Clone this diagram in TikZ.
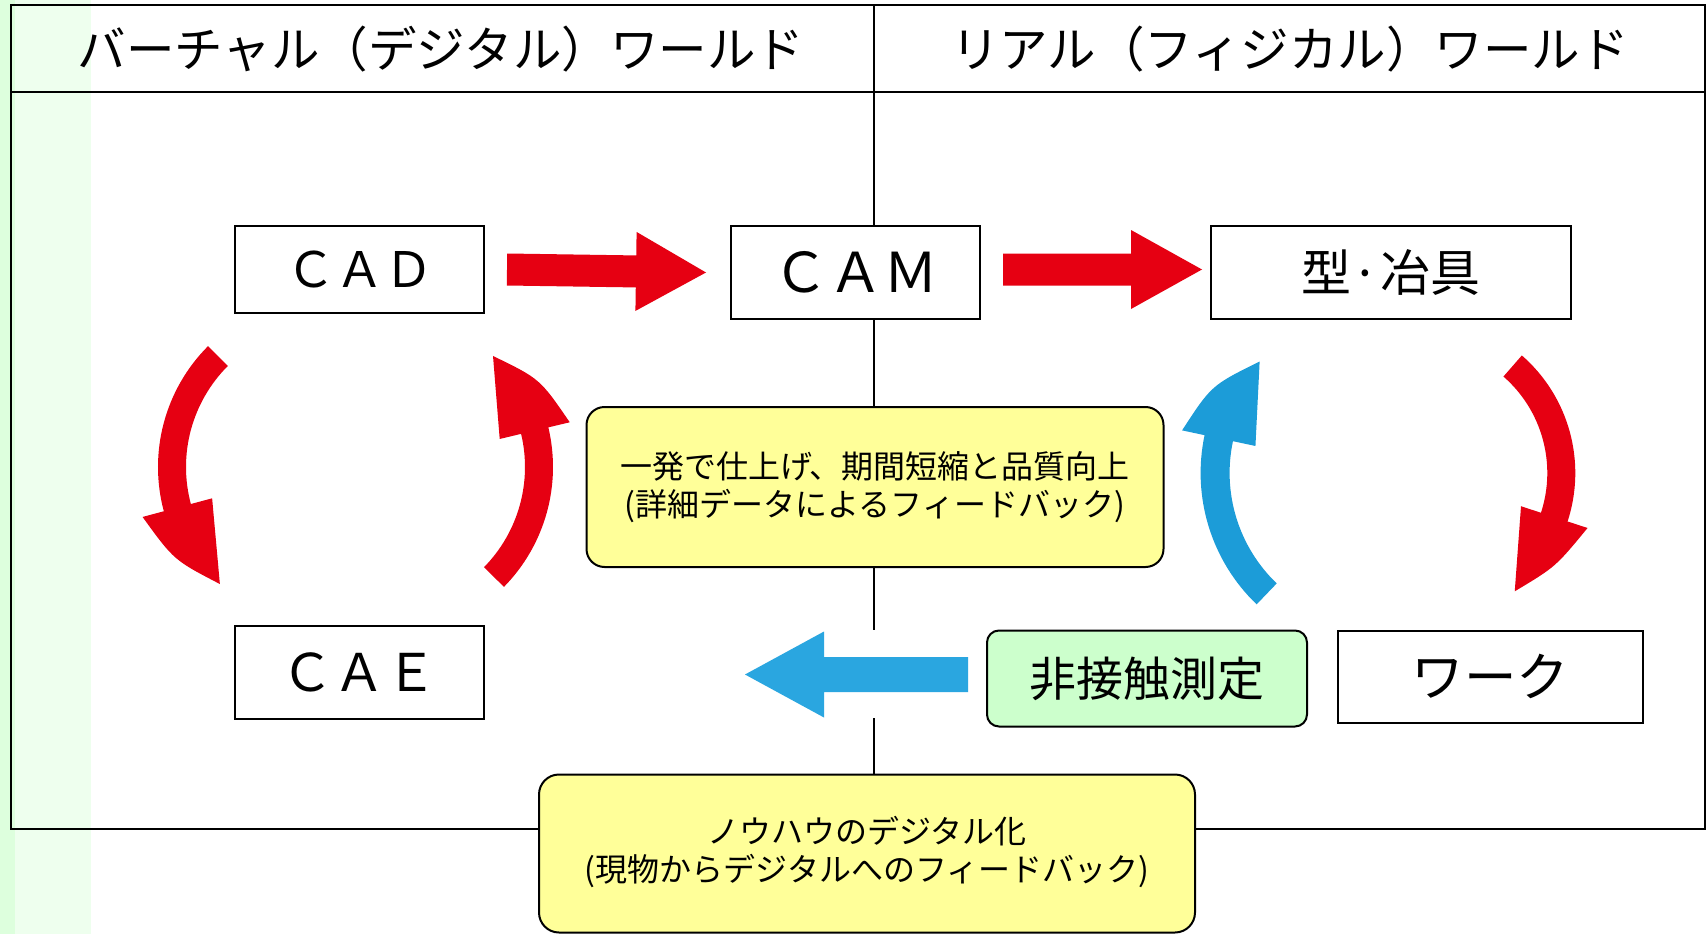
\documentclass[tikz,border=0pt]{standalone}
\usepackage{fontspec}
\setmainfont{Noto Sans CJK JP}
\usetikzlibrary{calc}
\definecolor{arrowred}{HTML}{E60012}
\definecolor{arrowblue}{HTML}{2AA6E0}
\definecolor{curveblue}{HTML}{1C9CD8}
\definecolor{noteyellow}{HTML}{FFFF99}
\definecolor{measgreen}{HTML}{CCFFCC}
\definecolor{stripdark}{HTML}{DDFFDD}
\definecolor{striplight}{HTML}{EEFFEE}

\newcommand{\fsz}[2]{\fontsize{#1}{#2}\selectfont}

% straight block arrow: #1 colour, #2 tail, #3 tip, #4 shaft half width, #5 head half width, #6 head length
\newcommand{\straightarrow}[6]{%
  \coordinate (sa-b) at ($(#3)!#6pt!(#2)$);
  \fill[#1] ($(#2)!#4pt!90:(#3)$) -- ($(sa-b)!#4pt!90:(#3)$) -- ($(sa-b)!#5pt!90:(#3)$)
    -- (#3) -- ($(sa-b)!#5pt!-90:(#3)$) -- ($(sa-b)!#4pt!-90:(#3)$) -- ($(#2)!#4pt!-90:(#3)$) -- cycle;
}
% curved block arrow: #1 colour, #2 centre, #3 inner r, #4 outer r, #5 tail angle, #6 head base angle, #7 tip angle, #8 head extension, #9 tip radius
\newcommand{\curvedarrow}[9]{%
  \fill[#1] ($(#2)+(#5:#4)$) arc[start angle=#5, end angle=#6, radius=#4]
    -- ($(#2)+(#6:{#4+#8})$)
    .. controls ($(#2)+({(#6+#7)/2}:{#4+0.45*#8})$) .. ($(#2)+(#7:#9)$)
    -- ($(#2)+(#6:{#3-#8})$)
    -- ($(#2)+(#6:#3)$) arc[start angle=#6, end angle=#5, radius=#3] -- cycle;
}

\tikzset{
  box/.style={draw=black, line width=2pt, fill=white, inner sep=0pt, align=center},
  note/.style={draw=black, line width=2pt, fill=noteyellow, rounded corners=18pt, inner sep=0pt, align=center, font=\fsz{32}{38}},
  measbox/.style={draw=black, line width=2pt, fill=measgreen, rounded corners=12pt, inner sep=0pt, align=center},
  frameline/.style={draw=black, line width=2pt},
  header/.style={inner sep=0pt, font=\fsz{48.5}{52}},
}

\begin{document}
\begin{tikzpicture}[x=1pt,y=-1pt]
\useasboundingbox (0,0) rectangle (1706,934);
\fill[white] (0,0) rectangle (1706,934);
\fill[stripdark] (0,0) rectangle (15,934);
\fill[striplight] (15,0) rectangle (91,934);

% frame
\draw[frameline] (11,5) rectangle (1705,829);
\draw[frameline] (11,92) -- (1705,92);

% headers
\node[header] (hvirt) at (441,49) {バーチャル（デジタル）ワールド};
\node[header] (hreal) at (1290,49) {リアル（フィジカル）ワールド};

% boxes
\node[box, minimum width=249pt, minimum height=87pt, font=\fsz{49}{52}] (cad) at (359.5,269.5) {ＣＡＤ};
\node[box, minimum width=249pt, minimum height=93pt, font=\fsz{55}{58}] (cam) at (855.5,272.5) {ＣＡＭ};
\node[box, minimum width=360pt, minimum height=93pt, font=\fsz{50}{54}] (mold) at (1391,272.5) {型·冶具};
\node[box, minimum width=249pt, minimum height=93pt, font=\fsz{52}{55}] (cae) at (359.5,672.5) {ＣＡＥ};
\node[measbox, minimum width=320pt, minimum height=96pt, font=\fsz{47}{50}] (meas) at (1147,678.5) {非接触測定};
\node[box, minimum width=305pt, minimum height=92pt, font=\fsz{52.5}{56}] (work) at (1490.5,676.5) {ワーク};
\node[note, minimum width=577pt, minimum height=160pt] (note1) at (875,487) {一発で仕上げ、期間短縮と品質向上\\(詳細データによるフィードバック)};

% divider
\coordinate (dtop) at (874,5);
\coordinate (gapa) at (874,630);
\coordinate (gapb) at (874,718);
\draw[frameline] (dtop) -- (dtop |- cam.north);
\draw[frameline] (dtop |- cam.south) -- (dtop |- note1.north);
\draw[frameline] (dtop |- note1.south) -- (gapa);

\node[note, rounded corners=20pt, minimum width=656pt, minimum height=158pt] (note2) at (867,853.5) {};
\node[inner sep=0pt, align=center, font=\fsz{32}{38}] (note2text) at (867,852) {ノウハウのデジタル化\\(現物からデジタルへのフィードバック)};
\draw[frameline] (gapb) -- (dtop |- note2.north);

% straight arrows
\coordinate (a1t) at ($(cad.east)+(22,0)$);
\coordinate (a1h) at ($(cam.west)+(-24,0)$);
\straightarrow{arrowred}{a1t}{a1h}{16}{39.5}{70}
\coordinate (a2t) at ($(cam.east |- cad.east)+(22,0)$);
\coordinate (a2h) at ($(mold.west |- cad.east)+(-8,0)$);
\straightarrow{arrowred}{a2t}{a2h}{16}{39.5}{71}
\coordinate (a3t) at ($(meas.west)+(-18,-4)$);
\coordinate (a3h) at (745,674.5);
\straightarrow{arrowblue}{a3t}{a3h}{17.5}{43}{79}

% curved arrows
\coordinate (c1) at (329,467);
\curvedarrow{arrowred}{c1}{143}{171}{-135}{-195}{-227}{22}{160}
\coordinate (c2) at (382,467);
\curvedarrow{arrowred}{c2}{143}{171}{44.5}{-13.4}{-45}{22}{157}
\coordinate (c3) at (1382.6,473);
\curvedarrow{curveblue}{c3}{153}{182}{133.8}{192}{222.2}{23}{166}
\coordinate (c4) at (1419.3,473);
\curvedarrow{arrowred}{c4}{128}{156}{-48.9}{18.1}{51.1}{21}{152}
\end{tikzpicture}
\end{document}
